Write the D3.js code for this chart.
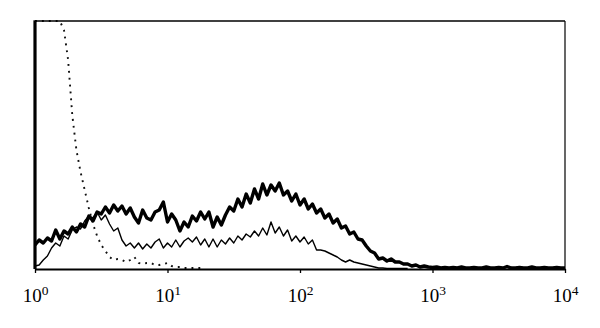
<!DOCTYPE html>
<html>
<head>
<meta charset="utf-8">
<script src="https://cdn.jsdelivr.net/npm/d3@7"></script>
<style>
  body { margin: 0; background: #fff; }
  svg { display: block; }
</style>
</head>
<body>
<svg id="chart" width="600" height="328"></svg>
<script>
// histogram channels, 128 across 4 decades (32 per decade)
var channels = 128;
var tickValues = [1, 10, 100, 1000, 10000];
var tickExps = ["0", "1", "2", "3", "4"];

// bold trace
var thickCounts = [24, 29, 26, 31, 28, 39, 30, 38, 35, 42, 37, 45, 42, 53, 48, 57, 55, 62, 56, 64,
  58, 63, 55, 61, 52, 46, 59, 51, 49, 57, 59, 67, 47, 55, 49, 38, 47, 42, 53, 48,
  57, 50, 57, 42, 52, 44, 54, 62, 58, 70, 62, 75, 66, 80, 70, 85, 74, 84, 78, 86,
  74, 78, 68, 75, 64, 70, 60, 65, 56, 60, 51, 55, 46, 50, 41, 43, 35, 37, 30, 29,
  23, 18, 16, 10, 11, 8, 10, 7, 7, 5, 5, 3, 4, 2, 3, 2, 1.5, 2, 1, 1.5,
  1, 1.5, 1, 2, 1, 1, 1.5, 1, 1, 2, 1, 1, 1.5, 1, 2.5, 1, 1, 1.5, 1, 1,
  2, 1, 1, 1.5, 1, 1, 1.5, 1, 1];

// thin trace
var thinCounts = [3, 4, 9, 13, 21, 26, 23, 33, 30, 39, 42, 40, 48, 53, 51, 57, 49, 54, 45, 38,
  41, 29, 23, 26, 21, 26, 20, 25, 21, 27, 30, 21, 26, 22, 29, 22, 28, 31, 27, 32,
  24, 30, 22, 30, 22, 29, 25, 31, 26, 33, 29, 35, 32, 38, 33, 41, 34, 47, 36, 42,
  33, 39, 28, 33, 27, 32, 25, 29, 19, 19, 18, 16, 14, 12, 9, 7, 9, 7, 6, 5,
  4, 3, 2, 1, 1, 0.5, 0.5, 0.5, 0.5, 0.5, 0.5];

// dotted trace (off scale at the left)
var dottedCounts = [248, 248, 248, 248, 248, 248, 248, 239, 209, 154, 119, 97, 79, 61, 45, 33, 24, 18, 12, 9,
  10, 9, 7, 9, 12, 6, 5, 6, 6, 4, 4, 5, 6, 3, 2, 2, 1, 1, 1, 1, 1, 1];

var margin = {left: 35, right: 35, top: 21, bottom: 59};
var svg = d3.select("#chart"),
    width = +svg.attr("width"),
    height = +svg.attr("height");

var x = d3.scaleLog().domain([1, 10000]).range([margin.left, width - margin.right]);
var xCh = d3.scaleLinear().domain([0, channels]).range([margin.left, width - margin.right]);
var y = d3.scaleLinear().domain([0, 248]).range([height - margin.bottom, margin.top]);

svg.append("defs").append("clipPath").attr("id", "plot")
  .append("rect")
    .attr("x", margin.left)
    .attr("y", margin.top - 2)
    .attr("width", width - margin.left - margin.right)
    .attr("height", height - margin.top - margin.bottom + 2);

var line = d3.line()
    .x(function(d, i) { return xCh(i); })
    .y(function(d) { return y(d); });

var g = svg.append("g").attr("clip-path", "url(#plot)");

g.append("path")
    .datum(dottedCounts)
    .attr("d", line)
    .attr("fill", "none")
    .attr("stroke", "#111")
    .attr("stroke-width", 1.9)
    .attr("stroke-dasharray", "1.9,5");

g.append("path")
    .datum(thinCounts)
    .attr("d", line)
    .attr("fill", "none")
    .attr("stroke", "#000")
    .attr("stroke-width", 1.4)
    .attr("stroke-linejoin", "round");

g.append("path")
    .datum(thickCounts)
    .attr("d", line)
    .attr("fill", "none")
    .attr("stroke", "#000")
    .attr("stroke-width", 3.4)
    .attr("stroke-linejoin", "round");

// frame: top and right thin, left heavy
svg.append("line")
    .attr("x1", margin.left).attr("x2", width - margin.right)
    .attr("y1", margin.top).attr("y2", margin.top)
    .attr("stroke", "#000").attr("stroke-width", 1.5);
svg.append("line")
    .attr("x1", width - margin.right).attr("x2", width - margin.right)
    .attr("y1", margin.top).attr("y2", height - margin.bottom)
    .attr("stroke", "#000").attr("stroke-width", 1.2);
svg.append("line")
    .attr("x1", margin.left).attr("x2", margin.left)
    .attr("y1", margin.top - 0.7).attr("y2", height - margin.bottom)
    .attr("stroke", "#000").attr("stroke-width", 3.2);

var axis = svg.append("g")
    .attr("transform", "translate(0," + (height - margin.bottom) + ")")
    .call(d3.axisBottom(x).tickValues(tickValues).tickSize(4).tickSizeOuter(0).tickFormat(""));
axis.select(".domain").attr("stroke-width", 2);
axis.selectAll(".tick line").attr("stroke-width", 1.3);

var labels = axis.selectAll(".tick").append("text")
    .attr("y", 33)
    .attr("fill", "#000")
    .attr("text-anchor", "middle")
    .style("font-family", "'Liberation Serif', 'DejaVu Serif', serif")
    .style("font-size", "19px");
labels.append("tspan").text("10");
labels.append("tspan")
    .attr("dy", -7)
    .style("font-size", "13.5px")
    .text(function(d, i) { return tickExps[i]; });
</script>
</body>
</html>
